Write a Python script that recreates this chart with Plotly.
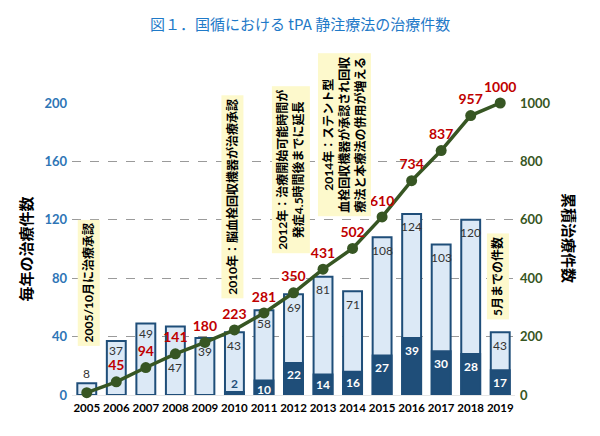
import plotly.graph_objects as go

years = [2005, 2006, 2007, 2008, 2009, 2010, 2011, 2012, 2013, 2014, 2015, 2016, 2017, 2018, 2019]
annual_total = [8, 37, 49, 47, 39, 43, 58, 69, 81, 71, 108, 124, 103, 120, 43]
annual_combined = [0, 0, 0, 0, 0, 2, 10, 22, 14, 16, 27, 39, 30, 28, 17]
cumulative = [8, 45, 94, 141, 180, 223, 281, 350, 431, 502, 610, 734, 837, 957, 1000]
cum_labels = ["", "45", "94", "141", "180", "223", "281", "350", "431", "502", "610", "734", "837", "957", "1000"]
year_labels = [str(y) for y in years]
left_ticks = [0, 40, 80, 120, 160, 200]
right_ticks = [0, 200, 400, 600, 800, 1000]

notes_text = [
    "2005/10月に治療承認",
    "2010年：脳血栓回収機器が治療承認",
    "2012年：治療開始可能時間が<br>発症4.5時間後までに延長",
    "2014年：ステント型<br>血栓回収機器が承認され回収<br>療法と本療法の併用が増える",
    "5月までの件数",
]
notes_x = [2005.07, 2009.93, 2011.9, 2013.73, 2018.93]
notes_y = [77, 136, 154, 178, 81]

# label offsets (styling only)
total_shift = [10, -10, -10, -41, -13, -13, -13, -13, -13, -13, -13, -13, -13, -13, -13]
comb_shift = [0, 0, 0, 0, 0, 9, -9, -12, -10, -11, -12, -12, -12, -12, -12]

FONT = "Lato, 'Noto Sans CJK JP', sans-serif"
DARK = "#1f4e79"
LIGHT = "#dce9f6"
GREEN = "#375623"
RED = "#c00000"

fig = go.Figure()
fig.add_trace(go.Bar(x=years, y=annual_total, width=0.64,
                     marker=dict(color=LIGHT, line=dict(color=DARK, width=2)),
                     hoverinfo="y", showlegend=False))
fig.add_trace(go.Bar(x=years, y=annual_combined, width=0.64,
                     marker=dict(color=DARK, line=dict(color=DARK, width=2)),
                     hoverinfo="y", showlegend=False))
fig.add_trace(go.Scatter(x=years, y=cumulative, yaxis="y2", mode="lines+markers+text",
                         line=dict(color=GREEN, width=3.5),
                         marker=dict(color=GREEN, size=11),
                         text=cum_labels, textposition="top center",
                         textfont=dict(color=RED, size=14, family=FONT, weight="bold"),
                         cliponaxis=False, showlegend=False))

anns = []
for x, v, s in zip(years, annual_total, total_shift):
    anns.append(dict(x=x, y=v, xref="x", yref="y", text=str(v), showarrow=False,
                     yshift=s, font=dict(size=12, color="#333333", family=FONT)))
for x, v, s in zip(years, annual_combined, comb_shift):
    if v == 0:
        continue
    col = "white" if v > 5 else DARK
    anns.append(dict(x=x, y=v, xref="x", yref="y", text=str(v), showarrow=False,
                     yshift=s, font=dict(size=12, color=col, family=FONT, weight="bold")))
for t, x, y in zip(notes_text, notes_x, notes_y):
    anns.append(dict(x=x, y=y, xref="x", yref="y", text=t, showarrow=False,
                     textangle=-90, align="center", bgcolor="#fdf9cc", borderpad=3,
                     font=dict(size=12, color="black", family=FONT, weight="bold")))
# title
anns.append(dict(x=0.515, y=1, xref="paper", yref="paper", yanchor="middle", yshift=80,
                 text="図１．国循における tPA 静注療法の治療件数", showarrow=False,
                 font=dict(size=15, color="#1f7ac8", family="'Noto Sans CJK JP', sans-serif")))
# right axis title (reads top to bottom)
anns.append(dict(x=1.0, y=0.538, xref="paper", yref="paper", xshift=65,
                 text="累積治療件数", textangle=90, showarrow=False,
                 font=dict(size=15, color="black", family=FONT, weight="bold")))

# the page body adds 8px of margin, so the figure is sized to fill the rest
fig.update_layout(
    width=592, height=428,
    margin=dict(l=64, r=85, t=95, b=41),
    paper_bgcolor="white", plot_bgcolor="white",
    barmode="overlay",
    font=dict(family=FONT),
    annotations=anns,
    xaxis=dict(range=[2004.5, 2019.5], tickvals=years, ticktext=year_labels,
               tickangle=0, ticklabelstandoff=4,
               showgrid=False, zeroline=False, showline=False, ticks="",
               tickfont=dict(size=11.5, color="black", family=FONT, weight="bold")),
    yaxis=dict(range=[0, 200], tickvals=left_ticks, showgrid=True,
               gridcolor="#9a9a9a", griddash="dash", gridwidth=1,
               zeroline=True, zerolinecolor="#e6e6e6", zerolinewidth=1,
               ticklabelstandoff=4,
               tickfont=dict(size=13, color="#2e75b6", family=FONT, weight="bold"),
               title=dict(text="毎年の治療件数", standoff=8,
                          font=dict(size=15, color="black", family=FONT, weight="bold"))),
    yaxis2=dict(range=[0, 1000], tickvals=right_ticks, overlaying="y", side="right",
                showgrid=False, zeroline=False, ticklabelstandoff=4,
                tickfont=dict(size=13, color=GREEN, family=FONT, weight="bold")),
)

fig.write_html("out.html")
